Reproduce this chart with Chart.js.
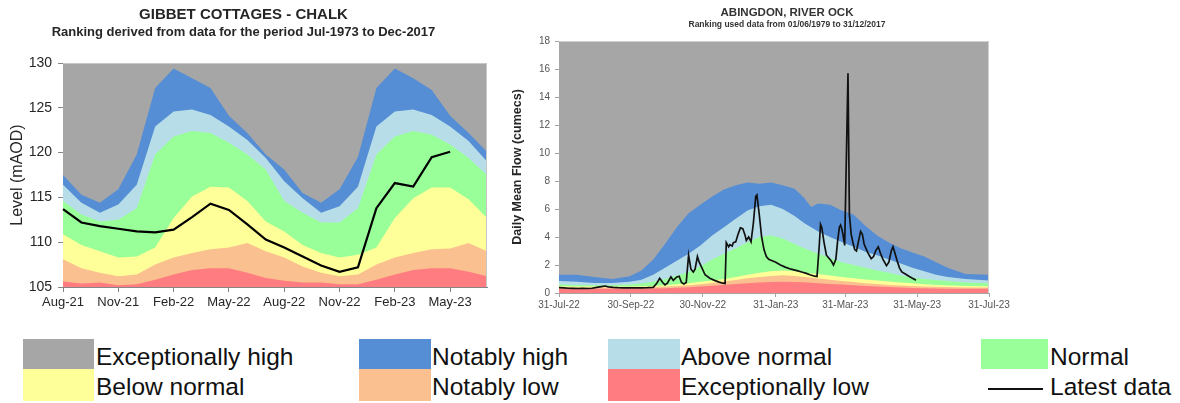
<!DOCTYPE html>
<html><head><meta charset="utf-8">
<script src="https://cdn.jsdelivr.net/npm/chart.js@4.4.0/dist/chart.umd.min.js"></script>
<style>
html,body{margin:0;padding:0;background:#fff;width:1180px;height:403px;overflow:hidden;font-family:"Liberation Sans",Arial,sans-serif;}
#left{position:absolute;left:0;top:0;width:500px;height:320px;}
#right{position:absolute;left:500px;top:0;width:574px;height:320px;}
.sw{position:absolute;}
.lt{position:absolute;font-size:24.5px;line-height:30px;color:#111;white-space:nowrap;}
.ln{position:absolute;left:988px;top:388px;width:55px;height:2px;background:#111;}
</style></head><body>
<div id="left"><canvas id="c1"></canvas></div>
<div id="right"><canvas id="c2"></canvas></div>
<div id="legend"></div>
<script>
// ---------- Left chart data (Gibbet Cottages) ----------
const leftMonths = ['Aug-21','Sep-21','Oct-21','Nov-21','Dec-21','Jan-22','Feb-22','Mar-22','Apr-22','May-22','Jun-22','Jul-22',
                    'Aug-22','Sep-22','Oct-22','Nov-22','Dec-22','Jan-23','Feb-23','Mar-23','Apr-23','May-23','Jun-23','Jul-23'];
const leftTickLabels = ['Aug-21','Nov-21','Feb-22','May-22','Aug-22','Nov-22','Feb-23','May-23'];
const leftNotablyHighTop = [117.5,115.3,114.4,115.9,119.8,127.2,129.4,128.3,127.2,124.1,122.2,119.8,
                            118.1,115.5,114.4,115.9,119.5,127.2,129.4,128.3,127.0,124.1,122.2,120.1];
const leftAboveNormalTop = [116.4,114.4,113.3,114.2,116.4,122.9,124.6,124.8,124.2,122.9,121.4,119.4,
                            116.8,114.9,113.3,114.0,116.2,122.9,124.6,124.8,124.2,122.9,121.3,119.0];
const leftNormalTop      = [114.6,113.1,112.3,112.5,113.8,119.8,121.8,122.4,122.2,121.1,119.8,118.1,
                            114.6,113.3,112.2,112.2,113.8,119.8,121.8,122.4,122.0,120.9,119.4,117.5];
const leftBelowNormalTop = [110.9,109.7,109.0,108.3,108.4,109.4,112.7,115.1,116.2,116.1,114.6,112.3,
                            111.2,109.7,108.8,108.3,108.6,109.4,112.7,114.9,116.1,116.1,114.8,112.7];
const leftNotablyLowTop  = [108.1,107.1,106.6,106.2,106.4,107.5,108.3,108.8,109.2,109.4,109.9,109.0,
                            108.3,107.3,106.6,106.2,106.4,107.5,108.3,108.8,109.2,109.3,109.9,109.0];
const leftExcLowTop      = [105.6,105.4,105.5,105.2,105.3,105.8,106.4,106.9,107.1,107.1,106.6,106.0,
                            105.7,105.5,105.5,105.3,105.3,105.8,106.4,106.9,107.1,107.1,106.7,106.2];
const leftLatest         = [113.7,112.2,111.8,111.5,111.2,111.1,111.4,112.8,114.3,113.6,112.0,110.3,
                            109.4,108.4,107.4,106.7,107.2,113.8,116.6,116.2,119.5,120.1,null,null];

// ---------- Right chart data (Abingdon, River Ock) ----------
const rightTickDays   = [0,61,122,184,243,304,365];
const rightTickLabels = ['31-Jul-22','30-Sep-22','30-Nov-22','31-Jan-23','31-Mar-23','31-May-23','31-Jul-23'];
const bandDays = [0,15,30,45,60,70,80,90,100,110,120,130,140,150,160,170,180,190,200,208,214,220,230,240,250,260,270,280,290,300,310,320,330,345,365];
const rightNotablyHighTop = [1.3,1.3,1.15,1.0,1.2,1.6,2.4,3.5,4.7,5.7,6.3,6.9,7.4,7.7,7.9,7.8,7.9,7.7,7.45,6.8,6.15,6.4,6.3,5.9,5.6,4.8,4.1,3.6,3.2,2.9,2.6,2.2,1.8,1.35,1.3];
const rightAboveNormalTop = [0.85,0.8,0.72,0.72,0.8,0.95,1.3,1.8,2.3,2.8,3.4,4.1,4.7,5.3,5.9,6.2,6.3,6.0,5.5,5.0,4.7,4.4,4.0,3.65,3.3,2.95,2.7,2.4,2.1,1.8,1.55,1.3,1.15,1.0,0.9];
const rightNormalTop      = [0.6,0.58,0.55,0.55,0.6,0.68,0.8,1.0,1.25,1.5,1.9,2.4,2.8,3.2,3.6,4.0,4.1,3.9,3.5,3.2,3.0,2.8,2.5,2.2,2.0,1.8,1.6,1.45,1.25,1.1,1.0,0.92,0.85,0.75,0.7];
const rightBelowNormalTop = [0.48,0.47,0.46,0.46,0.47,0.48,0.5,0.55,0.62,0.7,0.8,0.9,1.0,1.15,1.3,1.45,1.55,1.6,1.55,1.45,1.4,1.35,1.25,1.14,1.05,0.97,0.9,0.82,0.75,0.7,0.63,0.57,0.53,0.5,0.48];
const rightNotablyLowTop  = [0.4,0.4,0.39,0.39,0.4,0.41,0.43,0.46,0.5,0.56,0.63,0.72,0.82,0.93,1.05,1.15,1.22,1.26,1.22,1.15,1.1,1.04,0.95,0.85,0.78,0.7,0.64,0.58,0.54,0.5,0.47,0.44,0.42,0.4,0.4];
const rightExcLowTop      = [0.3,0.3,0.3,0.3,0.3,0.31,0.32,0.34,0.37,0.41,0.46,0.52,0.58,0.64,0.7,0.75,0.78,0.8,0.79,0.76,0.73,0.7,0.65,0.6,0.55,0.5,0.46,0.42,0.39,0.36,0.34,0.32,0.31,0.3,0.3];
const latestDays = [0,4,8,12,16,20,24,28,32,36,39,42,46,50,55,60,65,70,75,80,83,85.5,88,90,92,95,97,100,102,104,106,108,110,112,114,115.5,117.5,119,121,124,128,132,136,139,141,142,144,145,147,148,150,152,154,156,158,159,161,163,165,167,168,170,172,174,176,178,181,184,188,192,197,202,206,210,213,217,219,221,222,223,225,227,229,231,233,235,236.5,238,239,240,241,242.5,245.3,246.5,248,249.5,251,252.5,254,256,257.5,259,262,265,267,269,271,273,275,278,280,282,283.5,285,287,289,291,294,297,300,303];
const latestFlow = [0.38,0.36,0.34,0.33,0.32,0.33,0.32,0.34,0.4,0.46,0.5,0.44,0.4,0.38,0.37,0.36,0.37,0.37,0.38,0.4,0.7,1.05,0.75,0.58,0.7,1.15,0.9,1.15,1.2,0.75,0.65,0.75,2.7,1.7,1.5,1.7,2.6,2.2,1.85,1.3,1.05,0.9,0.78,0.7,0.68,3.6,3.3,3.45,3.35,3.6,3.65,4.2,4.65,4.6,4.1,3.75,4.0,3.65,5.0,6.9,7.0,5.6,4.0,3.1,2.6,2.4,2.3,2.2,2.0,1.85,1.7,1.6,1.5,1.4,1.3,1.2,1.18,3.5,4.9,4.7,3.6,2.7,2.5,2.3,2.0,2.4,3.7,4.7,4.85,4.6,4.2,3.4,15.7,5.6,4.2,3.6,3.1,3.0,3.6,4.4,4.2,3.5,2.9,2.45,2.6,3.05,3.3,2.8,2.4,1.95,2.2,3.0,3.3,2.9,2.3,1.8,1.5,1.35,1.2,1.05,0.92];

// ---------- Styling ----------
const COLORS = {exHigh:'#a6a6a6', nHigh:'#558ed5', above:'#b7dee8', normal:'#99ff99', below:'#ffff99', nLow:'#fac090', exLow:'#ff7c80'};
Chart.defaults.font.family = '"Liberation Sans", Arial, sans-serif';
Chart.defaults.animation = false;

const plotFrame = {
  id:'plotFrame',
  beforeDatasetsDraw(chart, args, opts){
    const {ctx, chartArea:a} = chart;
    ctx.save(); ctx.fillStyle = opts.bg;
    ctx.fillRect(a.left, a.top, a.right - a.left, a.bottom - a.top); ctx.restore();
  },
  afterDatasetsDraw(chart, args, opts){
    const {ctx, chartArea:a} = chart;
    ctx.save(); ctx.strokeStyle = opts.border; ctx.lineWidth = 1;
    ctx.beginPath(); ctx.moveTo(a.left, a.top + 0.5); ctx.lineTo(a.right - 0.5, a.top + 0.5); ctx.lineTo(a.right - 0.5, a.bottom); ctx.stroke();
    ctx.restore();
  }
};

function band(label, data, color, order){
  return {label, data, backgroundColor:color, borderColor:'rgba(0,0,0,0)', borderWidth:1, fill:'start', pointRadius:0, tension:0, order};
}

// ---------- Left chart ----------
new Chart(document.getElementById('c1'), {
  type:'line',
  data:{
    labels:leftMonths,
    datasets:[
      {label:'Latest data', data:leftLatest, borderColor:'#000', borderWidth:2.2, pointRadius:0, fill:false, tension:0, order:0, spanGaps:false},
      band('Exceptionally low', leftExcLowTop, COLORS.exLow, 1),
      band('Notably low', leftNotablyLowTop, COLORS.nLow, 2),
      band('Below normal', leftBelowNormalTop, COLORS.below, 3),
      band('Normal', leftNormalTop, COLORS.normal, 4),
      band('Above normal', leftAboveNormalTop, COLORS.above, 5),
      band('Notably high', leftNotablyHighTop, COLORS.nHigh, 6)
    ]
  },
  options:{
    responsive:true, maintainAspectRatio:false,
    layout:{padding:{left:0,right:13,top:0,bottom:0}},
    plugins:{
      legend:{display:false}, tooltip:{enabled:false},
      title:{display:true, text:'GIBBET COTTAGES - CHALK', color:'#262626', font:{size:15, weight:'bold'}, padding:{top:6,bottom:0}},
      subtitle:{display:true, text:'Ranking derived from data for the period Jul-1973 to Dec-2017', color:'#262626', font:{size:13, weight:'bold'}, padding:{top:1,bottom:22.4}},
      plotFrame:{bg:COLORS.exHigh, border:'#c8c8c8'}
    },
    scales:{
      x:{type:'category', offset:false, z:1,
         grid:{display:true, drawOnChartArea:false, tickLength:5, color:'#868686', tickColor:'#868686'},
         border:{display:true, color:'#868686'},
         ticks:{autoSkip:false, maxRotation:0, padding:3, color:'#262626', font:{size:13},
                callback:function(v, i){ const l = leftMonths[i]; return leftTickLabels.includes(l) ? l : null; }},
         afterFit:s=>{ s.height = 33; }},
      y:{min:105, max:130, z:1,
         grid:{display:true, drawOnChartArea:false, tickLength:5, color:'#868686', tickColor:'#868686'},
         border:{display:true, color:'#868686'},
         ticks:{stepSize:5, padding:6, color:'#262626', font:{size:14}},
         title:{display:true, text:'Level (mAOD)', color:'#262626', font:{size:16}, padding:{top:8,bottom:0}},
         afterFit:s=>{ s.width = 63; }}
    }
  },
  plugins:[plotFrame]
});

// ---------- Right chart ----------
const pts = (xs, ys) => xs.map((x, i) => ({x, y: ys[i]}));
function bandR(label, ys, color, order){ return band(label, pts(bandDays, ys), color, order); }

new Chart(document.getElementById('c2'), {
  type:'line',
  data:{
    datasets:[
      {label:'Latest data', data:pts(latestDays, latestFlow), borderColor:'#111', borderWidth:1.7, pointRadius:0, fill:false, tension:0, order:0},
      bandR('Exceptionally low', rightExcLowTop, COLORS.exLow, 1),
      bandR('Notably low', rightNotablyLowTop, COLORS.nLow, 2),
      bandR('Below normal', rightBelowNormalTop, COLORS.below, 3),
      bandR('Normal', rightNormalTop, COLORS.normal, 4),
      bandR('Above normal', rightAboveNormalTop, COLORS.above, 5),
      bandR('Notably high', rightNotablyHighTop, COLORS.nHigh, 6)
    ]
  },
  options:{
    responsive:true, maintainAspectRatio:false,
    layout:{padding:{left:0,right:0,top:0,bottom:0}},
    plugins:{
      legend:{display:false}, tooltip:{enabled:false},
      title:{display:true, text:'ABINGDON, RIVER OCK', color:'#333', font:{size:11.5, weight:'bold'}, padding:{top:5.5,bottom:0}},
      subtitle:{display:true, text:'Ranking used data from 01/06/1979 to 31/12/2017', color:'#333', font:{size:8.5, weight:'bold'}, padding:{top:0,bottom:11.5}},
      plotFrame:{bg:COLORS.exHigh, border:'#d0d0d0'}
    },
    scales:{
      x:{type:'linear', min:0, max:365, z:1,
         afterBuildTicks:s=>{ s.ticks = rightTickDays.map(v=>({value:v})); },
         grid:{display:true, drawOnChartArea:false, tickLength:4, color:'#a6a6a6', tickColor:'#a6a6a6'},
         border:{display:true, color:'#a6a6a6'},
         ticks:{autoSkip:false, maxRotation:0, padding:2, color:'#555', font:{size:10},
                callback:v=>rightTickLabels[rightTickDays.indexOf(v)]},
         afterFit:s=>{ s.height = 27; }},
      y:{min:0, max:18, z:1,
         grid:{display:true, drawOnChartArea:false, tickLength:4, color:'#a6a6a6', tickColor:'#a6a6a6'},
         border:{display:true, color:'#a6a6a6'},
         ticks:{stepSize:2, padding:5, color:'#555', font:{size:10}},
         title:{display:true, text:'Daily Mean Flow (cumecs)', color:'#262626', font:{size:12.5, weight:'bold'}, padding:{top:10.5,bottom:0}},
         afterFit:s=>{ s.width = 59; }},
      yR:{position:'right', display:true, grid:{display:false}, border:{display:false}, ticks:{display:false},
          afterFit:s=>{ s.width = 85; }}
    }
  },
  plugins:[plotFrame]
});

// ---------- Shared legend ----------
const legendNames  = ['Exceptionally high','Below normal','Notably high','Notably low','Above normal','Exceptionally low','Normal','Latest data'];
const legendColors = [COLORS.exHigh, COLORS.below, COLORS.nHigh, COLORS.nLow, COLORS.above, COLORS.exLow, COLORS.normal, null];
const colSwatchX = [23, 359, 608, 981];
const colSwatchW = [71, 72, 72, 67];
const colTextX   = [96, 432, 681, 1050];
const rowSwatchY = [339, 369];
const rowSwatchH = [30, 32];
const rowTextTop = [341.5, 371.5];
const lg = document.getElementById('legend');
legendNames.forEach((name, k) => {
  const col = Math.floor(k / 2), row = k % 2;
  if (legendColors[k]) {
    const s = document.createElement('div');
    s.className = 'sw';
    s.style.cssText = `left:${colSwatchX[col]}px;top:${rowSwatchY[row]}px;width:${colSwatchW[col]}px;height:${rowSwatchH[row]}px;background:${legendColors[k]};`;
    lg.appendChild(s);
  } else {
    const l = document.createElement('div'); l.className = 'ln'; lg.appendChild(l);
  }
  const t = document.createElement('div');
  t.className = 'lt';
  t.style.left = colTextX[col] + 'px';
  t.style.top = rowTextTop[row] + 'px';
  t.textContent = name;
  lg.appendChild(t);
});
</script>
</body></html>
